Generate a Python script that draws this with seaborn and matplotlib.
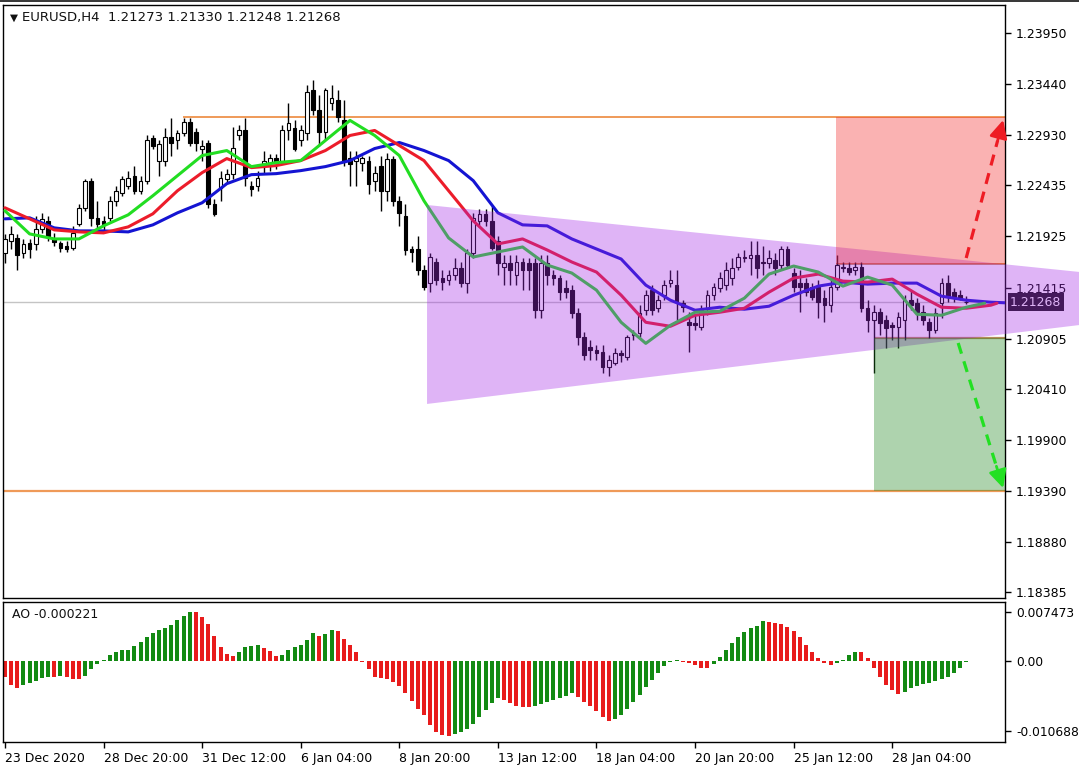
import numpy as np
import pandas as pd
import matplotlib
matplotlib.use("Agg")
import matplotlib.pyplot as plt
import seaborn as sns
from matplotlib.patches import Polygon, Rectangle

# ---------------- data ----------------
open_ = [1.2176, 1.2188, 1.2191, 1.2176, 1.2186, 1.2185, 1.2200, 1.2208, 1.2190, 1.2186,
         1.2183, 1.2181, 1.2205, 1.2221, 1.2248, 1.2211, 1.2208, 1.2211, 1.2228, 1.2236,
         1.2243, 1.2253, 1.2238, 1.2248, 1.2290, 1.2268, 1.2268, 1.2291, 1.2288, 1.2295,
         1.2306, 1.2296, 1.2280, 1.2286, 1.2225, 1.2241, 1.2250, 1.2255, 1.2293, 1.2298,
         1.2243, 1.2243, 1.2263, 1.2266, 1.2271, 1.2268, 1.2298, 1.2300, 1.2288, 1.2295,
         1.2338, 1.2318, 1.2296, 1.2325, 1.2328, 1.2308, 1.2271, 1.2268, 1.2266, 1.2268,
         1.2248, 1.2263, 1.2238, 1.2270, 1.2228, 1.2213, 1.2180, 1.2180, 1.2159, 1.2146,
         1.2167, 1.2151, 1.2149, 1.2154, 1.2161, 1.2146, 1.2176, 1.2208, 1.2215, 1.2208,
         1.2188, 1.2162, 1.2166, 1.2154, 1.2167, 1.2166, 1.2166, 1.2119, 1.2166, 1.2154,
         1.2151, 1.2141, 1.2139, 1.2116, 1.2092, 1.2082, 1.2079, 1.2077, 1.2062, 1.2066,
         1.2076, 1.2072, 1.2094, 1.2096, 1.2119, 1.2139, 1.2121, 1.2134, 1.2146, 1.2144,
         1.2126, 1.2107, 1.2106, 1.2102, 1.2121, 1.2134, 1.2141, 1.2144, 1.2151, 1.2162,
         1.2171, 1.2171, 1.2174, 1.2167, 1.2166, 1.2169, 1.2164, 1.2180, 1.2156, 1.2146,
         1.2146, 1.2142, 1.2142, 1.2131, 1.2124, 1.2142, 1.2161, 1.2161, 1.2159, 1.2162,
         1.2121, 1.2109, 1.2117, 1.2109, 1.2104, 1.2102, 1.2109, 1.2129, 1.2126, 1.2117,
         1.2107, 1.2099, 1.2126, 1.2146, 1.2137, 1.2134, 1.21273]
close = [1.2190, 1.2195, 1.2174, 1.2185, 1.2180, 1.2200, 1.2210, 1.2193, 1.2187, 1.2181,
         1.2180, 1.2196, 1.2221, 1.2248, 1.2211, 1.2205, 1.2205, 1.2228, 1.2238, 1.2250,
         1.2251, 1.2238, 1.2248, 1.2288, 1.2283, 1.2285, 1.2291, 1.2286, 1.2295, 1.2306,
         1.2286, 1.2286, 1.2283, 1.2225, 1.2215, 1.2251, 1.2255, 1.2281, 1.2298, 1.2251,
         1.2240, 1.2251, 1.2268, 1.2271, 1.2266, 1.2298, 1.2305, 1.2280, 1.2298, 1.2336,
         1.2318, 1.2296, 1.2338, 1.2330, 1.2311, 1.2268, 1.2265, 1.2271, 1.2271, 1.2245,
         1.2256, 1.2238, 1.2270, 1.2228, 1.2216, 1.2179, 1.2177, 1.2159, 1.2142, 1.2172,
         1.2149, 1.2147, 1.2154, 1.2161, 1.2146, 1.2176, 1.2211, 1.2215, 1.2208, 1.2181,
         1.2166, 1.2166, 1.2159, 1.2167, 1.2159, 1.2159, 1.2119, 1.2166, 1.2154, 1.2151,
         1.2137, 1.2137, 1.2116, 1.2092, 1.2074, 1.2079, 1.2076, 1.2062, 1.2069, 1.2076,
         1.2074, 1.2092, 1.2096, 1.2116, 1.2134, 1.2119, 1.2129, 1.2144, 1.2149, 1.2127,
         1.2122, 1.2104, 1.2104, 1.2119, 1.2134, 1.2142, 1.2151, 1.2159, 1.2161, 1.2172,
         1.2172, 1.2174, 1.2161, 1.2166, 1.2171, 1.2161, 1.2180, 1.2164, 1.2142, 1.2142,
         1.2137, 1.2132, 1.2127, 1.2124, 1.2142, 1.2164, 1.2162, 1.2157, 1.2162, 1.2121,
         1.2109, 1.2117, 1.2106, 1.2101, 1.2102, 1.2112, 1.2129, 1.2124, 1.2117, 1.2109,
         1.2099, 1.2116, 1.2146, 1.2132, 1.2131, 1.2131, 1.21268]
high = [1.2195, 1.2203, 1.2195, 1.2190, 1.2190, 1.2213, 1.2216, 1.2213, 1.2196, 1.2188,
        1.2188, 1.2203, 1.2225, 1.2250, 1.2251, 1.2228, 1.2213, 1.2233, 1.2243, 1.2253,
        1.2258, 1.2263, 1.2253, 1.2293, 1.2293, 1.2288, 1.2300, 1.2310, 1.2298, 1.2310,
        1.2310, 1.2300, 1.2288, 1.2288, 1.2230, 1.2258, 1.2260, 1.2301, 1.2303, 1.2310,
        1.2248, 1.2258, 1.2278, 1.2275, 1.2275, 1.2303, 1.2325, 1.2308, 1.2303, 1.2343,
        1.2348, 1.2333, 1.2340, 1.2343, 1.2338, 1.2328, 1.2278, 1.2278, 1.2273, 1.2273,
        1.2263, 1.2273, 1.2276, 1.2273, 1.2233, 1.2225, 1.2183, 1.2193, 1.2164, 1.2176,
        1.2171, 1.2159, 1.2159, 1.2171, 1.2167, 1.2180, 1.2216, 1.2220, 1.2220, 1.2223,
        1.2193, 1.2174, 1.2174, 1.2174, 1.2171, 1.2171, 1.2171, 1.2174, 1.2174, 1.2159,
        1.2154, 1.2149, 1.2144, 1.2121, 1.2097, 1.2089, 1.2084, 1.2084, 1.2074, 1.2081,
        1.2079, 1.2094, 1.2099, 1.2124, 1.2139, 1.2144, 1.2134, 1.2149, 1.2159, 1.2159,
        1.2129, 1.2117, 1.2114, 1.2124, 1.2139, 1.2146, 1.2157, 1.2167, 1.2171, 1.2176,
        1.2179, 1.2188, 1.2188, 1.2183, 1.2179, 1.2176, 1.2183, 1.2183, 1.2161, 1.2159,
        1.2151, 1.2146, 1.2149, 1.2139, 1.2149, 1.2174, 1.2167, 1.2167, 1.2167, 1.2167,
        1.2129, 1.2124, 1.2121, 1.2114, 1.2107, 1.2117, 1.2134, 1.2139, 1.2131, 1.2124,
        1.2111, 1.2121, 1.2151, 1.2154, 1.2141, 1.2139, 1.21330]
low = [1.2166, 1.2180, 1.2159, 1.2171, 1.2171, 1.2179, 1.2196, 1.2188, 1.2183, 1.2177,
       1.2177, 1.2179, 1.2203, 1.2218, 1.2203, 1.2200, 1.2198, 1.2208, 1.2223, 1.2233,
       1.2240, 1.2235, 1.2235, 1.2245, 1.2280, 1.2253, 1.2263, 1.2273, 1.2280, 1.2292,
       1.2283, 1.2278, 1.2268, 1.2221, 1.2213, 1.2228, 1.2246, 1.2250, 1.2288, 1.2243,
       1.2233, 1.2238, 1.2256, 1.2258, 1.2260, 1.2265, 1.2288, 1.2278, 1.2283, 1.2288,
       1.2313, 1.2283, 1.2288, 1.2318, 1.2306, 1.2263, 1.2243, 1.2243, 1.2258, 1.2235,
       1.2238, 1.2218, 1.2228, 1.2223, 1.2203, 1.2174, 1.2167, 1.2154, 1.2139, 1.2137,
       1.2144, 1.2139, 1.2144, 1.2149, 1.2142, 1.2136, 1.2171, 1.2203, 1.2203, 1.2179,
       1.2154, 1.2144, 1.2144, 1.2144, 1.2139, 1.2139, 1.2111, 1.2111, 1.2144, 1.2144,
       1.2129, 1.2131, 1.2111, 1.2084, 1.2069, 1.2069, 1.2069, 1.2057, 1.2054, 1.2064,
       1.2067, 1.2069, 1.2089, 1.2092, 1.2114, 1.2114, 1.2117, 1.2129, 1.2142, 1.2109,
       1.2117, 1.2077, 1.2099, 1.2099, 1.2114, 1.2129, 1.2137, 1.2139, 1.2144, 1.2159,
       1.2167, 1.2154, 1.2151, 1.2154, 1.2161, 1.2154, 1.2159, 1.2161, 1.2137, 1.2117,
       1.2133, 1.2129, 1.2111, 1.2107, 1.2117, 1.2139, 1.2157, 1.2154, 1.2154, 1.2117,
       1.2097, 1.2057, 1.2094, 1.2081, 1.2089, 1.2081, 1.2089, 1.2119, 1.2109, 1.2104,
       1.2091, 1.2096, 1.2111, 1.2127, 1.2127, 1.2129, 1.21248]

# Alligator lines (sampled every 4 bars, shifted forward as in the terminal)
jaw_x = list(range(0, 165, 4))
jaw_y = [1.2210, 1.2211, 1.2201, 1.2198, 1.2198, 1.2197, 1.2204, 1.2216, 1.2226, 1.2245,
         1.2254, 1.2255, 1.2258, 1.2262, 1.2268, 1.2280, 1.2286, 1.2278, 1.2268, 1.2248,
         1.2216, 1.2204, 1.2203, 1.2190, 1.2180, 1.2170, 1.2144, 1.2129, 1.2119, 1.2122,
         1.2120, 1.2123, 1.2134, 1.2143, 1.2147, 1.2145, 1.2146, 1.2146, 1.2133, 1.2129,
         1.2127, 1.2126]
teeth_x = list(range(0, 161, 4)) + [161]
teeth_y = [1.2221, 1.2210, 1.2199, 1.2197, 1.2196, 1.2202, 1.2215, 1.2238, 1.2256, 1.2270,
           1.2261, 1.2263, 1.2268, 1.2278, 1.2293, 1.2298, 1.2283, 1.2268, 1.2238, 1.2208,
           1.2185, 1.2190, 1.2179, 1.2167, 1.2157, 1.2134, 1.2107, 1.2103, 1.2114, 1.2117,
           1.2121, 1.2137, 1.2151, 1.2155, 1.2148, 1.2147, 1.2150, 1.2135, 1.2122, 1.2121,
           1.2124, 1.2126]
lips_x = list(range(0, 157, 4)) + [159]
lips_y = [1.2218, 1.2195, 1.2190, 1.2190, 1.2203, 1.2214, 1.2233, 1.2253, 1.2273, 1.2278,
          1.2262, 1.2266, 1.2268, 1.2288, 1.2308, 1.2293, 1.2273, 1.2228, 1.2191, 1.2172,
          1.2177, 1.2182, 1.2164, 1.2156, 1.2139, 1.2107, 1.2086, 1.2104, 1.2117, 1.2118,
          1.2131, 1.2155, 1.2163, 1.2157, 1.2143, 1.2152, 1.2144, 1.2115, 1.2114, 1.2122,
          1.2126]

ao = [-0.0024, -0.0037, -0.0042, -0.0037, -0.0034, -0.0030, -0.0026, -0.0024, -0.0025, -0.0023,
      -0.0024, -0.0027, -0.0028, -0.0023, -0.0013, -0.0005, 0.0002, 0.0009, 0.0013, 0.0016,
      0.0017, 0.0023, 0.0029, 0.0037, 0.0042, 0.0047, 0.0051, 0.0055, 0.0062, 0.0069,
      0.0075, 0.0074, 0.0067, 0.0056, 0.0038, 0.0022, 0.0010, 0.0007, 0.0014, 0.0022,
      0.0023, 0.0024, 0.0020, 0.0015, 0.0008, 0.0009, 0.0017, 0.0022, 0.0025, 0.0032,
      0.0042, 0.0038, 0.0041, 0.0047, 0.0045, 0.0033, 0.0024, 0.0014, -0.0001, -0.0013,
      -0.0024, -0.0026, -0.0028, -0.0032, -0.0038, -0.0049, -0.0061, -0.0074, -0.0083, -0.0098,
      -0.0108, -0.0113, -0.0114, -0.0112, -0.0109, -0.0104, -0.0096, -0.0086, -0.0075, -0.0064,
      -0.0056, -0.0060, -0.0064, -0.0068, -0.0070, -0.0071, -0.0069, -0.0066, -0.0063, -0.0060,
      -0.0057, -0.0053, -0.0049, -0.0055, -0.0062, -0.0069, -0.0077, -0.0085, -0.0091, -0.0089,
      -0.0082, -0.0073, -0.0063, -0.0052, -0.0040, -0.0029, -0.0018, -0.0007, -0.0001, 0.0001,
      -0.0001, -0.0003, -0.0006, -0.0010, -0.0011, -0.0004, 0.0006, 0.0017, 0.0027, 0.0036,
      0.0044, 0.0050, 0.0054, 0.0061, 0.0060, 0.0058, 0.0056, 0.0052, 0.0046, 0.0036,
      0.0024, 0.0014, 0.0005, -0.0003, -0.0006, -0.0003, 0.0002, 0.0009, 0.0014, 0.0013,
      0.0004, -0.0010, -0.0024, -0.0036, -0.0045, -0.0051, -0.0047, -0.0042, -0.0038, -0.0035,
      -0.0033, -0.0031, -0.0028, -0.0024, -0.0018, -0.0010, -0.000221]

price_ticks = [1.23950, 1.23440, 1.22930, 1.22435, 1.21925, 1.21415, 1.20905,
               1.20410, 1.19900, 1.19390, 1.18880, 1.18385]
ao_ticks = [0.007473, 0.0, -0.010688]
ao_tick_labels = ["0.007473", "0.00", "-0.010688"]
date_bars = [0, 16, 32, 48, 64, 80, 96, 112, 128, 144]
date_labels = ["23 Dec 2020", "28 Dec 20:00", "31 Dec 12:00", "6 Jan 04:00", "8 Jan 20:00",
               "13 Jan 12:00", "18 Jan 04:00", "20 Jan 20:00", "25 Jan 12:00", "28 Jan 04:00"]

level_top = 1.23114
level_bottom = 1.19390
red_box = (134.9, 1.21650, 1.23114)      # start bar, low, high
green_box = (141.1, 1.19390, 1.20914)
triangle = [(68.5, 1.22238), (174.4, 1.21571), (174.4, 1.21043), (68.5, 1.20257)]
up_arrow = [(156.0, 1.21710), (162.0, 1.23084)]
down_arrow = [(154.7, 1.20864), (162.0, 1.19420)]
last_price = 1.21268

# ---------------- style ----------------
sns.set_theme(style="white")
plt.rcParams["font.family"] = ["DejaVu Sans"]
plt.rcParams["axes.edgecolor"] = "black"
plt.rcParams["axes.unicode_minus"] = False

W, H = 1079, 766
fig = plt.figure(figsize=(W / 100, H / 100), dpi=100, facecolor="white")
ax = fig.add_axes([3 / W, 1 - 598 / H, 1002 / W, 593 / H])
ax2 = fig.add_axes([3 / W, 1 - 742 / H, 1002 / W, 140 / H])

XMIN, XMAX = -0.32, 162.3
df = pd.DataFrame({"open": open_, "high": high, "low": low, "close": close})
df["bar"] = np.arange(len(df))

# current price line & horizontal levels
ax.axhline(last_price, color="#c4c4c4", lw=1, zorder=1)
ax.hlines(level_top, 28.9, XMAX, color="#ef9a58", lw=1.4, zorder=2)
ax.hlines(level_bottom, XMIN, XMAX, color="#ef9a58", lw=1.6, zorder=2)
ax.hlines(red_box[1], red_box[0], XMAX, color="#d08a58", lw=1.4, zorder=2)
ax.hlines(green_box[2], green_box[0], XMAX, color="#b58a58", lw=1.6, zorder=2)

# candles
up = df["close"] >= df["open"]
body_lo = np.minimum(df["open"], df["close"])
body_h = np.maximum((df["close"] - df["open"]).abs(), 0.00005)
ax.vlines(df["bar"], df["low"], df["high"], color="black", lw=1, zorder=3)
ax.bar(df["bar"], body_h, bottom=body_lo, width=0.6,
       color=np.where(up, "white", "black"), edgecolor="black", linewidth=0.8, zorder=3.5)

# alligator
line_kw = dict(lw=2.2, sort=False, solid_joinstyle="round", solid_capstyle="round")
sns.lineplot(x=jaw_x, y=jaw_y, ax=ax, color="#1414d2", zorder=4, **line_kw)
sns.lineplot(x=teeth_x, y=teeth_y, ax=ax, color="#ec1c2a", zorder=4.1, **line_kw)
sns.lineplot(x=lips_x, y=lips_y, ax=ax, color="#22dd22", zorder=4.2, **line_kw)

# price box
ax.text(1.005, last_price, "1.21268", transform=ax.get_yaxis_transform(), ha="left",
        va="center", color="white", fontsize=9,
        bbox=dict(boxstyle="square,pad=0.2", fc="#111111", ec="none"), zorder=6, clip_on=False)

# overlay objects (translucent, like the terminal's objects)
ax.add_patch(Polygon(triangle, closed=True, fc="#a429e8", ec="none", alpha=0.35,
                     zorder=10, clip_on=False))
ax.add_patch(Rectangle((red_box[0], red_box[1]), XMAX - red_box[0], red_box[2] - red_box[1],
                       fc="#f12323", ec="none", alpha=0.35, zorder=11))
ax.add_patch(Rectangle((green_box[0], green_box[1]), XMAX - green_box[0], green_box[2] - green_box[1],
                       fc="#188118", ec="none", alpha=0.35, zorder=11))

# dashed arrows
for (p0, p1), col in [(up_arrow, "#ee1c24"), (down_arrow, "#22e022")]:
    x0, y0 = p0
    x1, y1 = p1
    xm, ym = x0 + (x1 - x0) * 0.85, y0 + (y1 - y0) * 0.85
    ax.plot([x0, xm], [y0, ym], color=col, lw=2.3, ls=(0, (3.5, 2.5)), zorder=12,
            solid_capstyle="butt", dash_capstyle="butt")
    ax.annotate("", xy=(x1, y1), xytext=(xm, ym),
                arrowprops=dict(arrowstyle="-|>,head_length=0.9,head_width=0.45",
                                color=col, lw=2, shrinkA=0, shrinkB=0), zorder=12)

ax.set_xlim(XMIN, XMAX)
ax.set_ylim(1.18325, 1.24229)
ax.set_xticks([])
ax.set_xlabel("")
ax.set_ylabel("")
ax.yaxis.tick_right()
ax.set_yticks(price_ticks)
ax.set_yticklabels([f"{v:.5f}" for v in price_ticks])
ax.tick_params(axis="y", direction="out", length=4, width=1, pad=4, labelsize=9,
               colors="black", right=True, left=False)
for s in ax.spines.values():
    s.set_color("black")
    s.set_linewidth(1)

fig.text(22 / W, 1 - 18 / H, "EURUSD,H4  1.21273 1.21330 1.21248 1.21268",
         ha="left", va="center", fontsize=9.5, color="#111111")
fig.text(14 / W, 1 - 18 / H, "\u25bc", ha="center", va="center", fontsize=7.5, color="#111111")

# ---------------- AO panel ----------------
ao_arr = np.array(ao)
diff = np.diff(ao_arr, prepend=ao_arr[0] + 1)
ao_colors = np.where(diff > 0, "#138a13", "#e81c1c")
ax2.bar(np.arange(len(ao_arr)), ao_arr, width=0.65, color=ao_colors, linewidth=0)
ax2.set_xlim(XMIN, XMAX)
ax2.set_ylim(-0.01237, 0.00900)
ax2.yaxis.tick_right()
ax2.set_yticks(ao_ticks)
ax2.set_yticklabels(ao_tick_labels)
ax2.set_xticks(date_bars)
ax2.set_xticklabels(date_labels, ha="left")
ax2.tick_params(axis="y", direction="out", length=4, width=1, pad=4, labelsize=8.8,
                colors="black", right=True, left=False)
ax2.tick_params(axis="x", direction="out", length=4, width=1, pad=3, labelsize=9,
                colors="black", bottom=True)
for s in ax2.spines.values():
    s.set_color("black")
    s.set_linewidth(1)
ax2.text(0.009, 0.914, "AO -0.000221", transform=ax2.transAxes, ha="left", va="center",
         fontsize=9, color="#111111")

# window edge
fig.add_artist(Rectangle((0, 1 - 2 / H), 1, 2 / H, transform=fig.transFigure,
                         fc="#3a3a3a", ec="none"))

fig.savefig("out.png", dpi=100, facecolor="white")
